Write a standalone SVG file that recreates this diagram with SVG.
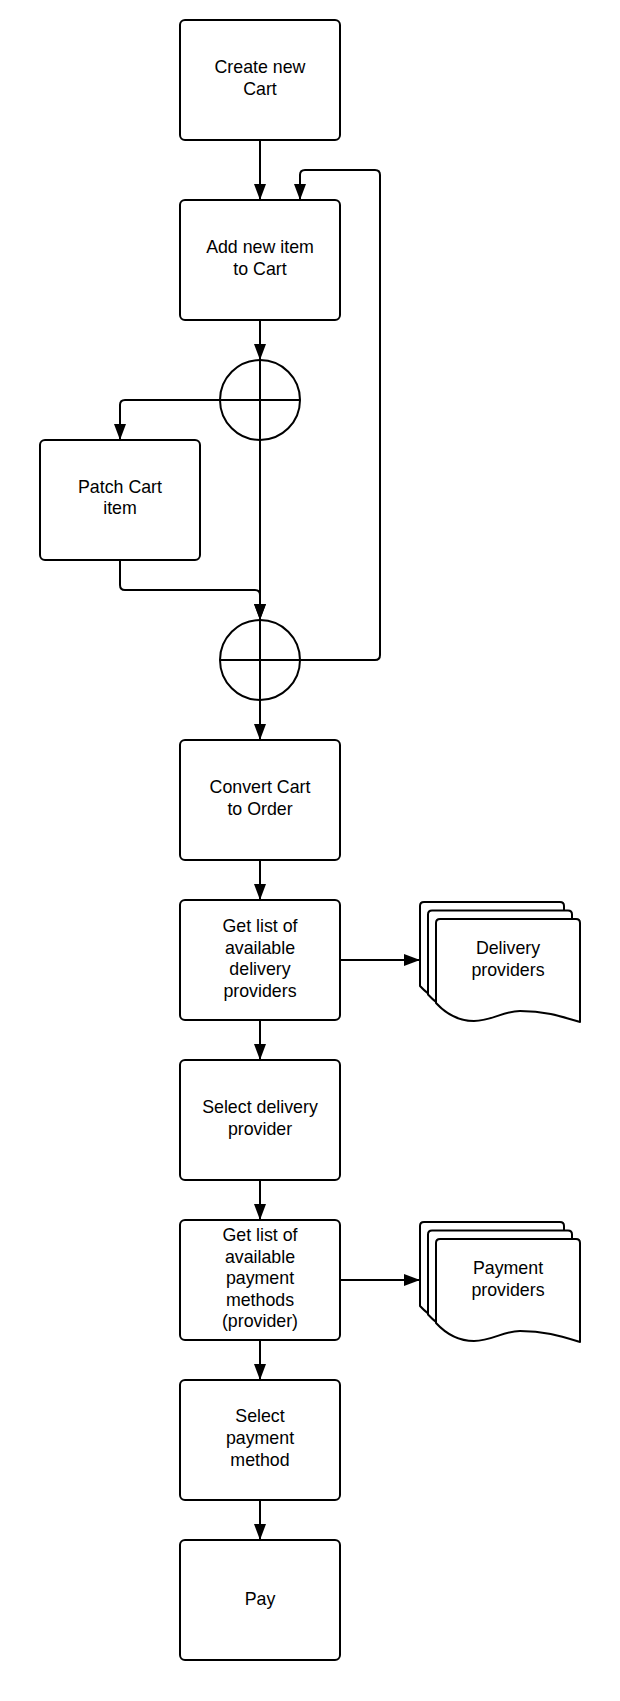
<svg xmlns="http://www.w3.org/2000/svg" width="620" height="1701" viewBox="0 0 620 1701">
<style>
.box{fill:#fff;stroke:#000;stroke-width:2}
.doc{fill:#fff;stroke:#000;stroke-width:2;stroke-linejoin:round}
.con{fill:none;stroke:#000;stroke-width:2}
.t{font-family:"Liberation Sans",Arial,sans-serif;font-size:17.8px;fill:#000;text-anchor:middle}
</style>
<defs>
<marker id="arr" markerUnits="userSpaceOnUse" markerWidth="18" markerHeight="14" refX="16" refY="6" orient="auto">
<path d="M0,0 L16,6 L0,12 Z" fill="#000"/>
</marker>
<path id="docshape" d="M4,0 H140 Q144,0 144,4 V103 C124,97 108,92 84,92 C67,92 56,102 38,102 C26,102 12,97 0,84 V4 Q0,0 4,0 Z"/>
</defs>
<rect width="620" height="1701" fill="#fff"/>

<g id="connectors">
<path class="con" d="M260,140 V200" marker-end="url(#arr)"/>
<path class="con" d="M260,320 V360" marker-end="url(#arr)"/>
<path class="con" d="M220,400 H125 Q120,400 120,405 V440" marker-end="url(#arr)"/>
<path class="con" d="M260,440 V620" marker-end="url(#arr)"/>
<path class="con" d="M120,560 V585 Q120,590 125,590 H255 Q260,590 260,595 V620" marker-end="url(#arr)"/>
<path class="con" d="M300,660 H375 Q380,660 380,655 V175 Q380,170 375,170 H305 Q300,170 300,175 V200" marker-end="url(#arr)"/>
<path class="con" d="M260,700 V740" marker-end="url(#arr)"/>
<path class="con" d="M260,860 V900" marker-end="url(#arr)"/>
<path class="con" d="M260,1020 V1060" marker-end="url(#arr)"/>
<path class="con" d="M260,1180 V1220" marker-end="url(#arr)"/>
<path class="con" d="M260,1340 V1380" marker-end="url(#arr)"/>
<path class="con" d="M260,1500 V1540" marker-end="url(#arr)"/>
<path class="con" d="M340,960 H420" marker-end="url(#arr)"/>
<path class="con" d="M340,1280 H420" marker-end="url(#arr)"/>
</g>

<g id="create-cart">
<rect class="box" x="180" y="20" width="160" height="120" rx="5"/>
<text class="t" x="260" y="73">Create new</text>
<text class="t" x="260" y="94.6">Cart</text>
</g>

<g id="add-item">
<rect class="box" x="180" y="200" width="160" height="120" rx="5"/>
<text class="t" x="260" y="253">Add new item</text>
<text class="t" x="260" y="274.6">to Cart</text>
</g>

<g id="gateway-1">
<circle class="con" cx="260" cy="400" r="40"/>
<path class="con" d="M220,400 H300 M260,360 V440"/>
</g>

<g id="patch-item">
<rect class="box" x="40" y="440" width="160" height="120" rx="5"/>
<text class="t" x="120" y="492.6">Patch Cart</text>
<text class="t" x="120" y="514.2">item</text>
</g>

<g id="gateway-2">
<circle class="con" cx="260" cy="660" r="40"/>
<path class="con" d="M220,660 H300 M260,620 V700"/>
</g>

<g id="convert-order">
<rect class="box" x="180" y="740" width="160" height="120" rx="5"/>
<text class="t" x="260" y="793">Convert Cart</text>
<text class="t" x="260" y="814.6">to Order</text>
</g>

<g id="get-delivery">
<rect class="box" x="180" y="900" width="160" height="120" rx="5"/>
<text class="t" x="260" y="932">Get list of</text>
<text class="t" x="260" y="953.6">available</text>
<text class="t" x="260" y="975.2">delivery</text>
<text class="t" x="260" y="996.8">providers</text>
</g>

<g id="delivery-providers">
<use href="#docshape" class="doc" x="420" y="902"/>
<use href="#docshape" class="doc" x="428" y="910.5"/>
<use href="#docshape" class="doc" x="436" y="919"/>
<text class="t" x="508" y="954">Delivery</text>
<text class="t" x="508" y="975.6">providers</text>
</g>

<g id="select-delivery">
<rect class="box" x="180" y="1060" width="160" height="120" rx="5"/>
<text class="t" x="260" y="1113">Select delivery</text>
<text class="t" x="260" y="1134.6">provider</text>
</g>

<g id="get-payment">
<rect class="box" x="180" y="1220" width="160" height="120" rx="5"/>
<text class="t" x="260" y="1241">Get list of</text>
<text class="t" x="260" y="1262.6">available</text>
<text class="t" x="260" y="1284.2">payment</text>
<text class="t" x="260" y="1305.8">methods</text>
<text class="t" x="260" y="1327.4">(provider)</text>
</g>

<g id="payment-providers">
<use href="#docshape" class="doc" x="420" y="1222"/>
<use href="#docshape" class="doc" x="428" y="1230.5"/>
<use href="#docshape" class="doc" x="436" y="1239"/>
<text class="t" x="508" y="1274">Payment</text>
<text class="t" x="508" y="1295.6">providers</text>
</g>

<g id="select-payment">
<rect class="box" x="180" y="1380" width="160" height="120" rx="5"/>
<text class="t" x="260" y="1422.4">Select</text>
<text class="t" x="260" y="1444">payment</text>
<text class="t" x="260" y="1465.6">method</text>
</g>

<g id="pay">
<rect class="box" x="180" y="1540" width="160" height="120" rx="5"/>
<text class="t" x="260" y="1605">Pay</text>
</g>
</svg>
